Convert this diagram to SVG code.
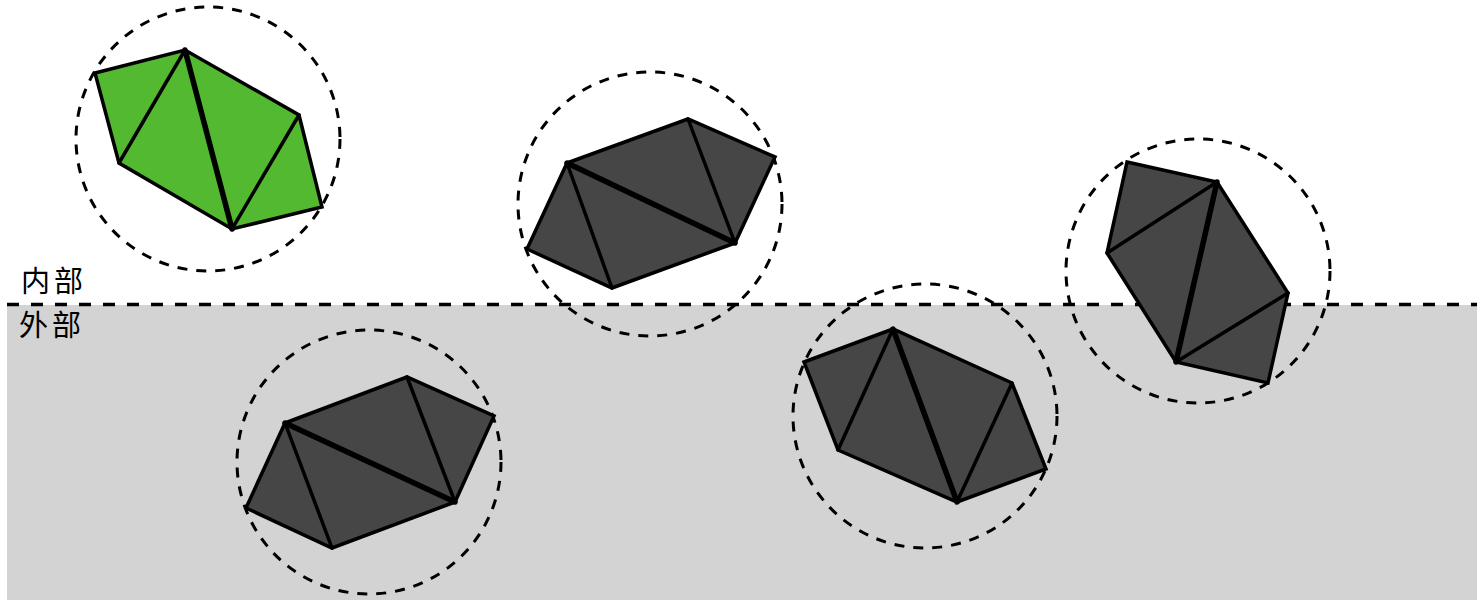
<svg xmlns="http://www.w3.org/2000/svg" width="1477" height="605" viewBox="0 0 1477 605">
<style>
.bg{fill:#d3d3d3;stroke:none}
.div{stroke:#000;stroke-width:3.5;stroke-dasharray:12 12;fill:none}
.circ{fill:none;stroke:#000;stroke-width:3;stroke-dasharray:10 9}
.poly{stroke:#000;stroke-width:3.5;stroke-linejoin:miter}
.green{fill:#53b930}
.dark{fill:#464646}
.diag{stroke:#000;stroke-width:3.5;fill:none;stroke-linecap:round}
.thick{stroke:#000;stroke-width:5.5;fill:none;stroke-linecap:round}
.lbl{font-family:"Noto Sans CJK SC","Noto Sans CJK JP",sans-serif;font-size:29px;fill:#000}
</style>
<rect class="bg" x="7" y="305" width="1470" height="295"/>
<g id="connectors">
<line class="div" x1="7" y1="304.5" x2="1477" y2="304.5"/>
</g>
<text class="lbl" x="21" y="292" letter-spacing="4">内部</text>
<text class="lbl" x="19" y="336" letter-spacing="4">外部</text>
<g id="node-green">
<circle class="circ" cx="208" cy="139" r="132"/>
<polygon class="poly green" points="95,73 185,50 299,115 322,207 232,229 119,163"/>
<line class="diag" x1="185" y1="50" x2="119" y2="163"/>
<line class="thick" x1="185" y1="50" x2="232" y2="229"/>
<line class="diag" x1="299" y1="115" x2="232" y2="229"/>
</g>
<g id="node-2">
<circle class="circ" cx="650" cy="204" r="132"/>
<polygon class="poly dark" points="527,249 567,163 688,119 775,157 735,243 612,288"/>
<line class="diag" x1="567" y1="163" x2="612" y2="288"/>
<line class="thick" x1="567" y1="163" x2="735" y2="243"/>
<line class="diag" x1="688" y1="119" x2="735" y2="243"/>
</g>
<g id="node-3">
<circle class="circ" cx="1198" cy="271" r="132"/>
<polygon class="poly dark" points="1127,162 1217,182 1288,293 1268,383 1176,362 1107,253"/>
<line class="diag" x1="1107" y1="253" x2="1217" y2="182"/>
<line class="thick" x1="1217" y1="182" x2="1176" y2="362"/>
<line class="diag" x1="1176" y1="362" x2="1288" y2="293"/>
</g>
<g id="node-4">
<circle class="circ" cx="369" cy="462" r="132"/>
<polygon class="poly dark" points="246,508 285,423 407,377 494,416 455,502 332,548"/>
<line class="diag" x1="285" y1="423" x2="332" y2="548"/>
<line class="thick" x1="285" y1="423" x2="455" y2="502"/>
<line class="diag" x1="407" y1="377" x2="455" y2="502"/>
</g>
<g id="node-5">
<circle class="circ" cx="925" cy="416" r="132"/>
<polygon class="poly dark" points="804,362 893,329 1012,383 1046,469 957,502 838,450"/>
<line class="diag" x1="893" y1="329" x2="838" y2="450"/>
<line class="thick" x1="893" y1="329" x2="957" y2="502"/>
<line class="diag" x1="1012" y1="383" x2="957" y2="502"/>
</g>
</svg>
